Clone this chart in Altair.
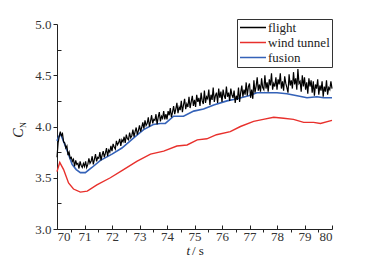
import altair as alt
import pandas as pd

# ---------------- data ----------------
fusion_t = [70.0, 70.06, 70.12, 70.2, 70.36, 70.55, 70.7, 70.85, 71.03, 71.27, 71.58, 72.0,
            72.36, 72.79, 73.15, 73.5, 73.75, 73.94, 74.24, 74.6, 74.97, 75.33, 75.7, 76.18,
            76.55, 76.97, 77.27, 77.64, 78.0, 78.36, 78.73, 79.09, 79.45, 79.7, 80.0]
fusion_v = [3.86, 3.90, 3.93, 3.88, 3.77, 3.63, 3.58, 3.55, 3.55, 3.60, 3.67, 3.73,
            3.79, 3.89, 3.97, 4.02, 4.03, 4.03, 4.10, 4.10, 4.15, 4.17, 4.21, 4.25,
            4.27, 4.30, 4.33, 4.33, 4.33, 4.32, 4.30, 4.28, 4.29, 4.28, 4.28]

wind_t = [70.0, 70.1, 70.24, 70.42, 70.6, 70.85, 71.1, 71.45, 71.94, 72.42, 72.9, 73.4,
          73.88, 74.36, 74.73, 75.1, 75.45, 75.8, 76.3, 76.67, 77.15, 77.5, 77.88, 78.24,
          78.6, 78.97, 79.33, 79.58, 80.0]
wind_v = [3.56, 3.65, 3.58, 3.45, 3.39, 3.36, 3.37, 3.43, 3.50, 3.58, 3.66, 3.73,
          3.76, 3.81, 3.82, 3.87, 3.88, 3.92, 3.95, 4.00, 4.05, 4.07, 4.09, 4.08,
          4.07, 4.04, 4.04, 4.03, 4.06]

# flight samples every 0.04 s from 70.00 to 80.00
flight_v = [
    3.70, 3.84, 3.90, 3.95, 3.91, 3.93, 3.85, 3.84, 3.79, 3.81, 3.72, 3.75, 3.69, 3.70, 3.66, 3.68, 3.61, 3.67, 3.63, 3.64, 3.59, 3.66, 3.62, 3.60, 3.64,
    3.61, 3.66, 3.60, 3.63, 3.69, 3.64, 3.66, 3.71, 3.63, 3.68, 3.73, 3.66, 3.70, 3.69, 3.75, 3.67, 3.72, 3.76, 3.70, 3.74, 3.79, 3.71, 3.77, 3.75, 3.81,
    3.76, 3.83, 3.80, 3.78, 3.86, 3.82, 3.84, 3.88, 3.81, 3.87, 3.85, 3.90, 3.84, 3.92, 3.88, 3.87, 3.94, 3.89, 3.91, 3.97, 3.90, 3.95, 3.99, 3.92, 3.96,
    4.01, 3.95, 3.99, 4.04, 3.98, 4.06, 4.01, 4.03, 4.09, 4.00, 4.05, 4.11, 4.03, 4.07, 4.06, 4.12, 4.02, 4.09, 4.14, 4.05, 4.10, 4.08, 4.15, 4.07, 4.12,
    4.07, 4.15, 4.11, 4.18, 4.09, 4.14, 4.20, 4.12, 4.17, 4.23, 4.13, 4.19, 4.16, 4.25, 4.14, 4.21, 4.27, 4.17, 4.22, 4.19, 4.29, 4.18, 4.24, 4.30, 4.20,
    4.26, 4.19, 4.31, 4.24, 4.28, 4.20, 4.33, 4.25, 4.22, 4.35, 4.23, 4.29, 4.27, 4.36, 4.21, 4.31, 4.26, 4.38, 4.24, 4.30, 4.33, 4.23, 4.37, 4.28, 4.34,
    4.24, 4.36, 4.30, 4.27, 4.39, 4.29, 4.33, 4.25, 4.37, 4.31, 4.28, 4.35, 4.23, 4.30, 4.26, 4.38, 4.24, 4.33, 4.40, 4.29, 4.36, 4.31, 4.43, 4.30, 4.39,
    4.42, 4.28, 4.36, 4.27, 4.45, 4.33, 4.39, 4.48, 4.35, 4.41, 4.34, 4.47, 4.38, 4.36, 4.50, 4.37, 4.43, 4.34, 4.46, 4.40, 4.52, 4.36, 4.42, 4.39, 4.48,
    4.36, 4.46, 4.41, 4.52, 4.37, 4.44, 4.35, 4.49, 4.42, 4.38, 4.33, 4.51, 4.40, 4.45, 4.37, 4.53, 4.41, 4.47, 4.36, 4.56, 4.42, 4.44, 4.34, 4.50, 4.39,
    4.48, 4.36, 4.43, 4.32, 4.47, 4.39, 4.45, 4.33, 4.44, 4.30, 4.41, 4.37, 4.46, 4.31, 4.40, 4.35, 4.44, 4.29, 4.39, 4.34, 4.45, 4.31, 4.38, 4.36, 4.44,
    4.37,
]
flight_t = [round(70 + 0.04 * i, 2) for i in range(len(flight_v))]

series_names = ["flight", "wind tunnel", "fusion"]
series_colors = ["#000000", "#e8302c", "#3462b8"]

x_major = [70, 71, 72, 73, 74, 75, 76, 77, 78, 79, 80]
x_minor = [70.5, 71.5, 72.5, 73.5, 74.5, 75.5, 76.5, 77.5, 78.5, 79.5]
y_major = [3.0, 3.5, 4.0, 4.5, 5.0]
y_minor = [3.25, 3.75, 4.25, 4.75]

df = pd.concat([
    pd.DataFrame({"t": flight_t, "v": flight_v, "s": "flight"}),
    pd.DataFrame({"t": wind_t, "v": wind_v, "s": "wind tunnel"}),
    pd.DataFrame({"t": fusion_t, "v": fusion_v, "s": "fusion"}),
])

SERIF = "Liberation Serif"
xs = alt.Scale(domain=[70, 80], nice=False, zero=False)
ys = alt.Scale(domain=[3.0, 5.0], nice=False, zero=False)
cs = alt.Scale(domain=series_names, range=series_colors)

base = alt.Chart(df)

axis_common = dict(labelFont=SERIF, labelFontSize=13, labelColor="#333333",
                   domainColor="#222222", tickColor="#222222", grid=False,
                   title=None, domainWidth=1, tickWidth=1)

# red line with major axes
red = base.transform_filter(alt.datum.s == "wind tunnel").mark_line(strokeWidth=1.4).encode(
    x=alt.X("t:Q", scale=xs, axis=alt.Axis(values=x_major, format="d", offset=-4, tickSize=4,
                                           domain=False, labelPadding=1, orient="bottom",
                                           **axis_common)),
    y=alt.Y("v:Q", scale=ys, axis=alt.Axis(values=y_major, format=".1f", tickSize=4,
                                           labelPadding=2, orient="left", **axis_common)),
    color=alt.Color("s:N", scale=cs, legend=alt.Legend(
        title=None, orient="none", legendX=180, legendY=-5, symbolType="stroke",
        symbolSize=676, symbolStrokeWidth=1.6, labelFont=SERIF, labelFontSize=13,
        labelColor="#222222", strokeColor="#333333", fillColor="white", padding=2,
        rowPadding=1, labelOffset=1, labelLimit=200, clipHeight=13)),
)

# blue line with minor axes
blue = base.transform_filter(alt.datum.s == "fusion").mark_line(strokeWidth=1.6).encode(
    x=alt.X("t:Q", scale=xs, axis=alt.Axis(values=x_minor, tickSize=3, labels=False,
                                           domain=True, orient="bottom", **axis_common)),
    y=alt.Y("v:Q", scale=ys, axis=alt.Axis(values=y_minor, tickSize=4, labels=False,
                                           domain=False, offset=-4, orient="left",
                                           **axis_common)),
    color=alt.Color("s:N", scale=cs),
)

black = base.transform_filter(alt.datum.s == "flight").mark_line(strokeWidth=1.2).encode(
    x=alt.X("t:Q", scale=xs, axis=None),
    y=alt.Y("v:Q", scale=ys, axis=None),
    color=alt.Color("s:N", scale=cs),
)

one = pd.DataFrame({"a": [0]})
tl = alt.Chart(one).mark_text(font=SERIF, fontSize=13, fontStyle="italic", align="right",
                              color="#222222").encode(
    x=alt.value(133), y=alt.value(227), text=alt.value("t"))
sl = alt.Chart(one).mark_text(font=SERIF, fontSize=13, align="left", color="#222222").encode(
    x=alt.value(135), y=alt.value(227), text=alt.value("/ s"))
cl = alt.Chart(one).mark_text(font=SERIF, fontSize=14, fontStyle="italic", angle=270,
                              align="center", baseline="middle", color="#222222").encode(
    x=alt.value(-38), y=alt.value(109), text=alt.value("C"))
nl = alt.Chart(one).mark_text(font=SERIF, fontSize=8, angle=270,
                              align="center", baseline="middle", color="#222222").encode(
    x=alt.value(-33), y=alt.value(101), text=alt.value("N"))

chart = alt.layer(red, blue, black, tl, sl, cl, nl).resolve_axis(
    x="independent", y="independent").properties(
    width=275, height=205,
    autosize=alt.AutoSizeParams(type="none"),
    padding={"left": 57, "top": 24, "right": 33, "bottom": 34},
    background="white",
).configure_view(stroke=None)

chart.save("out.html", embed_options={"renderer": "svg", "actions": False})
